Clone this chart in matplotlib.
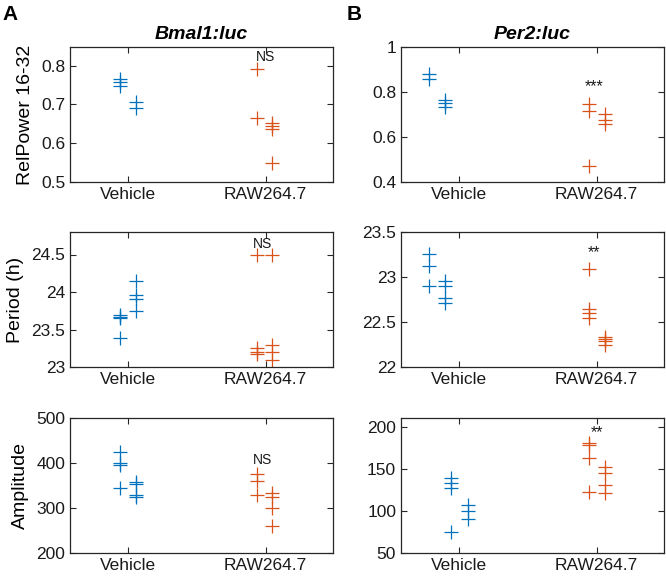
import matplotlib
matplotlib.use("Agg")
import matplotlib.pyplot as plt
from matplotlib.ticker import FuncFormatter

plt.rcParams['font.family'] = ['Liberation Sans', 'DejaVu Sans']

groups = ['Vehicle', 'RAW264.7']
blue = '#0072BD'
red = '#D95319'

# Bmal1:luc (column A)
bmal_power_veh = [[0.765, 0.759, 0.748], [0.705, 0.690]]
bmal_power_raw = [[0.791, 0.666], [0.651, 0.644, 0.637, 0.549]]
bmal_period_veh = [[23.69, 23.67, 23.65, 23.39], [24.15, 23.96, 23.905, 23.75]]
bmal_period_raw = [[24.5, 23.25, 23.2, 23.17], [24.5, 23.3, 23.2, 23.1]]
bmal_amp_veh = [[424, 400, 395, 345], [358, 353, 328, 325]]
bmal_amp_raw = [[375, 360, 330], [333, 325, 301, 261]]

# Per2:luc (column B)
per_power_veh = [[0.878, 0.860], [0.764, 0.753, 0.734]]
per_power_raw = [[0.746, 0.717, 0.469], [0.702, 0.677, 0.659]]
per_period_veh = [[23.26, 23.12, 22.90], [22.96, 22.90, 22.77, 22.71]]
per_period_raw = [[23.09, 22.65, 22.60, 22.55], [22.33, 22.31, 22.29, 22.24]]
per_amp_veh = [[139, 133, 127, 75], [107, 100, 91]]
per_amp_raw = [[181, 179, 163, 123], [152, 145, 131, 121]]

sig_bmal = ['NS', 'NS', 'NS']
sig_per = ['***', '**', '**']

fig = plt.figure(figsize=(6.66, 5.83), dpi=100)

lefts = [70 / 666, 401 / 666]
bottoms = [1 - 182 / 583, 1 - 367 / 583, 1 - 553 / 583]
w = 263 / 666
h = 135 / 583

fmt = FuncFormatter(lambda v, p: ('%g' % round(v, 3)))


def panel(ax, veh, raw, veh_dx, raw_dx, ylim, yticks, sig, sig_xy):
    for cols, dxs, base, c in [(veh, veh_dx, 1, blue), (raw, raw_dx, 2, red)]:
        for vals, dx in zip(cols, dxs):
            ax.plot([base + dx] * len(vals), vals, ls='none', marker='+',
                    ms=10.5, mew=0.9, color=c)
    ax.set_xlim(0.58, 2.49)
    ax.set_ylim(*ylim)
    ax.set_yticks(yticks)
    ax.yaxis.set_major_formatter(fmt)
    ax.set_xticks([1, 2])
    ax.set_xticklabels(groups)
    ax.tick_params(direction='in', top=True, right=True, length=4,
                   labelsize=12.5, color='#262626', labelcolor='#1a1a1a')
    for s in ax.spines.values():
        s.set_color('#262626')
        s.set_linewidth(0.9)
    # stars a bit larger than the NS text
    fs = 10 if sig == 'NS' else 11.5
    ax.text(sig_xy[0], sig_xy[1], sig, ha='center', va='bottom',
            fontsize=fs, color='#1a1a1a')


axes = [[fig.add_axes([lefts[c], bottoms[r], w, h]) for c in range(2)] for r in range(3)]

# column A
panel(axes[0][0], bmal_power_veh, bmal_power_raw, [-0.06, 0.06], [-0.065, 0.05],
      (0.5, 0.848), [0.5, 0.6, 0.7, 0.8], sig_bmal[0], (2.0, 0.803))
panel(axes[1][0], bmal_period_veh, bmal_period_raw, [-0.06, 0.06], [-0.065, 0.05],
      (23, 24.8), [23, 23.5, 24, 24.5], sig_bmal[1], (1.98, 24.55))
panel(axes[2][0], bmal_amp_veh, bmal_amp_raw, [-0.06, 0.06], [-0.065, 0.05],
      (200, 500), [200, 300, 400, 500], sig_bmal[2], (1.98, 392))

# column B
panel(axes[0][1], per_power_veh, per_power_raw, [-0.22, -0.10], [-0.056, 0.06],
      (0.4, 1.0), [0.4, 0.6, 0.8, 1.0], sig_per[0], (1.98, 0.79))
panel(axes[1][1], per_period_veh, per_period_raw, [-0.22, -0.10], [-0.056, 0.06],
      (22, 23.5), [22, 22.5, 23, 23.5], sig_per[1], (1.98, 23.19))
panel(axes[2][1], per_amp_veh, per_amp_raw, [-0.06, 0.07], [-0.056, 0.06],
      (50, 211), [50, 100, 150, 200], sig_per[2], (2.0, 184))

axes[0][0].set_ylabel('RelPower 16-32', fontsize=14, labelpad=5)
axes[1][0].set_ylabel('Period (h)', fontsize=14, labelpad=5)
axes[2][0].set_ylabel('Amplitude', fontsize=14, labelpad=5)

axes[0][0].set_title('Bmal1:luc', fontsize=14, fontweight='bold',
                     fontstyle='italic', pad=6)
axes[0][1].set_title('Per2:luc', fontsize=14, fontweight='bold',
                     fontstyle='italic', pad=6)

fig.text(2 / 666, 1 - 14 / 583, 'A', fontsize=15, fontweight='bold', va='center')
fig.text(347 / 666, 1 - 14 / 583, 'B', fontsize=15, fontweight='bold', va='center')

fig.savefig('out.png', dpi=100)
